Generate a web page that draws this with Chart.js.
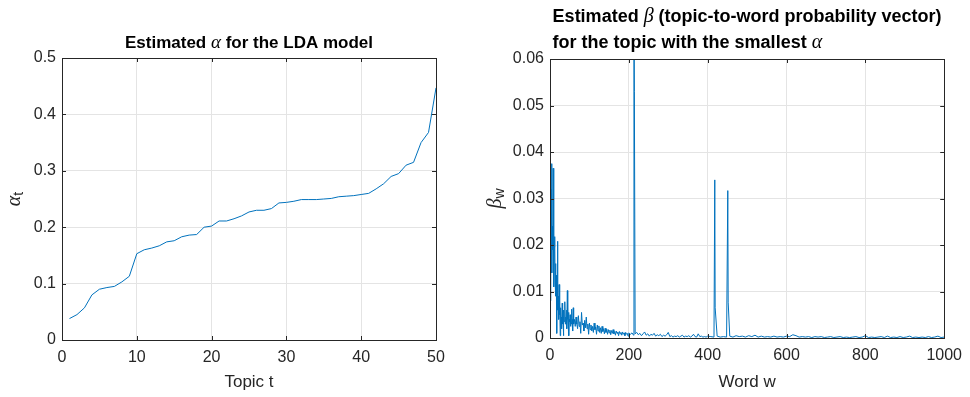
<!DOCTYPE html>
<html>
<head>
<meta charset="utf-8">
<script src="https://cdn.jsdelivr.net/npm/chart.js@4.4.0/dist/chart.umd.min.js"></script>
<style>
html, body { margin: 0; padding: 0; background: #fff; }
#wrap { position: relative; width: 970px; height: 397px; }
canvas { position: absolute; top: 0; }
</style>
</head>
<body>
<div id="wrap">
    <canvas id="alphaChart" width="485" height="397" style="left:0"></canvas>
    <canvas id="betaChart" width="485" height="397" style="left:485px"></canvas>
</div>
<script>
// Left plot: sorted alpha per topic
const topics = Array.from({ length: 50 }, (_, i) => i + 1);
const alphaValues = [
    0.038, 0.045, 0.057, 0.080, 0.090, 0.093, 0.095, 0.103, 0.113, 0.153,
    0.160, 0.163, 0.167, 0.174, 0.176, 0.183, 0.186, 0.187, 0.200, 0.202,
    0.211, 0.211, 0.215, 0.220, 0.227, 0.230, 0.230, 0.233, 0.243, 0.244,
    0.246, 0.249, 0.249, 0.249, 0.250, 0.251, 0.254, 0.255, 0.256, 0.258,
    0.260, 0.268, 0.277, 0.290, 0.295, 0.310, 0.315, 0.350, 0.368, 0.447
];
const alphaXTicks = [0, 10, 20, 30, 40, 50];
const alphaYTicks = [0, 0.1, 0.2, 0.3, 0.4, 0.5];

// Right plot: beta for the topic with the smallest alpha
// words 1..60 (step 1)
const betaHead = [
    0.008, 0.027, 0.032, 0.0375, 0.014, 0.024, 0.019, 0.0365, 0.017, 0.011,
    0.0195, 0.0218, 0.012, 0.016, 0.009, 0.0135, 0.001, 0.011, 0.0208, 0.006,
    0.009, 0.004, 0.0115, 0.005, 0.008, 0.0005, 0.0065, 0.003, 0.0045, 0.002,
    0.0075, 0.003, 0.0045, 0.0005, 0.006, 0.0035, 0.004, 0.0078, 0.003, 0.0045,
    0.0035, 0.006, 0.002, 0.0102, 0.004, 0.003, 0.0055, 0.0005, 0.004, 0.0035,
    0.005, 0.0025, 0.0042, 0.003, 0.0062, 0.0035, 0.004, 0.0015, 0.0065, 0.003
];
// words 62..200 (step 2)
const betaMid = [
    0.004, 0.0025, 0.0045, 0.003, 0.002, 0.0048, 0.0025, 0.0035, 0.001, 0.0055,
    0.0028, 0.0032, 0.0015, 0.0038, 0.0022, 0.0045, 0.002, 0.003, 0.0008, 0.0032,
    0.0018, 0.0028, 0.0015, 0.0025, 0.0012, 0.0032, 0.0018, 0.0024, 0.0008, 0.0028,
    0.0015, 0.0026, 0.0012, 0.0022, 0.001, 0.0025, 0.0014, 0.002, 0.0009, 0.0021,
    0.0012, 0.0019, 0.0008, 0.0018, 0.0011, 0.0017, 0.0007, 0.0016, 0.001, 0.0018,
    0.0009, 0.0014, 0.0006, 0.0015, 0.001, 0.0013, 0.0005, 0.0014, 0.0009, 0.0012,
    0.0006, 0.0013, 0.0008, 0.0011, 0.0005, 0.0012, 0.0008, 0.001, 0.0004, 0.0011
];
// words 204..400 (step 4)
const betaTail = [
    0.0008, 0.0011, 0.0006, 0.0009, 0.0012, 0.0007, 0.001, 0.0005, 0.0009, 0.0013,
    0.0006, 0.0009, 0.0004, 0.0008, 0.0006, 0.001, 0.0004, 0.0007, 0.0005, 0.0008,
    0.0003, 0.0006, 0.0004, 0.0007, 0.0012, 0.0003, 0.0005, 0.0002, 0.0004, 0.0003,
    0.0005, 0.0002, 0.0004, 0.0006, 0.0002, 0.0004, 0.0003, 0.0005, 0.0002, 0.0004,
    0.0008, 0.0003, 0.0002, 0.0009, 0.0003, 0.0004, 0.0002, 0.0003, 0.0002, 0.0004
];
// words 408..1000 (step 8)
const betaFlat = [
    0.0003, 0.0002, 0.0004, 0.0002, 0.0003, 0.0002, 0.0004, 0.0002, 0.0005, 0.0003,
    0.0004, 0.0002, 0.0005, 0.0003, 0.0006, 0.0002, 0.0004, 0.0002, 0.0003, 0.0002,
    0.0004, 0.0002, 0.0003, 0.0002, 0.0004, 0.0003, 0.0007, 0.0005, 0.0002, 0.0003,
    0.0002, 0.0003, 0.0001, 0.0003, 0.0002, 0.0003, 0.0001, 0.0002, 0.0003, 0.0001,
    0.0002, 0.0003, 0.0001, 0.0002, 0.0001, 0.0002, 0.0003, 0.0001, 0.0002, 0.0005,
    0.0001, 0.0002, 0.0001, 0.0002, 0.0003, 0.0001, 0.0004, 0.0001, 0.0002, 0.0001,
    0.0003, 0.0001, 0.0002, 0.0004, 0.0001, 0.0002, 0.0001, 0.0002, 0.0001, 0.0003,
    0.0001, 0.0002, 0.0004, 0.0001, 0.0002
];
const spikeWords = [213, 214, 418, 419, 451, 452];
const spikeValues = [0.075, 0.053, 0.034, 0.0065, 0.0317, 0.0077];
const betaXTicks = [0, 200, 400, 600, 800, 1000];
const betaYTicks = [0, 0.01, 0.02, 0.03, 0.04, 0.05, 0.06];

const LINE = '#0072BD';
const AXIS = '#262626';
const GRID = '#e4e4e4';
const SANS = '"Liberation Sans", Arial, sans-serif';
const SERIF = '"Liberation Serif", "Times New Roman", serif';

function segment(values, start, step) {
    return values.map((v, i) => ({ x: start + i * step, y: v }));
}

const betaPoints = [
    ...segment(betaHead, 1, 1),
    ...segment(betaMid, 62, 2),
    ...segment(betaTail, 204, 4),
    ...segment(betaFlat, 408, 8),
    ...spikeWords.map((w, i) => ({ x: w, y: spikeValues[i] }))
].sort((a, b) => a.x - b.x);

// draw text made of several font parts
function drawRich(ctx, parts, x, y, align) {
    let w = 0;
    parts.forEach(p => { ctx.font = p.font; w += ctx.measureText(p.text).width; });
    let cx = align === 'center' ? x - w / 2 : x;
    parts.forEach(p => {
        ctx.font = p.font;
        ctx.fillText(p.text, cx, y + (p.dy || 0));
        cx += ctx.measureText(p.text).width;
    });
}

function richWidth(ctx, parts) {
    let w = 0;
    parts.forEach(p => { ctx.font = p.font; w += ctx.measureText(p.text).width; });
    return w;
}

// box, inward ticks, titles and labels like a matlab axes
const matlabAxes = {
    id: 'matlabAxes',
    afterDraw(chart, args, opts) {
        const { ctx, chartArea: a, scales } = chart;
        ctx.save();
        ctx.strokeStyle = AXIS;
        ctx.lineWidth = 1;
        const tl = 4;
        ctx.beginPath();
        scales.x.ticks.forEach(t => {
            const px = Math.round(scales.x.getPixelForValue(t.value)) + 0.5;
            ctx.moveTo(px, a.bottom); ctx.lineTo(px, a.bottom - tl);
            ctx.moveTo(px, a.top); ctx.lineTo(px, a.top + tl);
        });
        scales.y.ticks.forEach(t => {
            const py = Math.round(scales.y.getPixelForValue(t.value)) + 0.5;
            ctx.moveTo(a.left, py); ctx.lineTo(a.left + tl, py);
            ctx.moveTo(a.right, py); ctx.lineTo(a.right - tl, py);
        });
        ctx.stroke();
        ctx.strokeRect(Math.round(a.left) + 0.5, Math.round(a.top) + 0.5,
            Math.round(a.right - a.left), Math.round(a.bottom - a.top));

        ctx.fillStyle = '#000';
        ctx.textBaseline = 'middle';
        ctx.textAlign = 'left';
        const cx = (a.left + a.right) / 2;
        const widths = opts.title.map(line => richWidth(ctx, line));
        const maxW = Math.max(...widths);
        opts.title.forEach((line, i) => {
            drawRich(ctx, line, cx - maxW / 2, opts.titleY[i], 'left');
        });

        ctx.fillStyle = AXIS;
        drawRich(ctx, [{ text: opts.xLabel, font: '17px ' + SANS }], cx, opts.xLabelY, 'center');

        ctx.translate(opts.yLabelX, (a.top + a.bottom) / 2);
        ctx.rotate(-Math.PI / 2);
        drawRich(ctx, opts.yLabel, 0, 0, 'center');
        ctx.restore();
    }
};

function tickCallback(value) {
    return String(+value.toFixed(2));
}

function axesOptions(xTicks, yTicks, xRange, yRange, yWidth, xHeight) {
    return {
        x: {
            type: 'linear', min: xRange[0], max: xRange[1],
            afterBuildTicks: s => { s.ticks = xTicks.map(v => ({ value: v })); },
            afterFit: s => { s.height = xHeight; },
            grid: { color: GRID, drawTicks: false },
            border: { display: false },
            ticks: { padding: 8, color: AXIS, font: { family: SANS, size: 16 }, callback: tickCallback, maxRotation: 0 }
        },
        y: {
            min: yRange[0], max: yRange[1],
            afterBuildTicks: s => { s.ticks = yTicks.map(v => ({ value: v })); },
            afterFit: s => { s.width = yWidth; },
            grid: { color: GRID, drawTicks: false },
            border: { display: false },
            ticks: { padding: 6, color: AXIS, font: { family: SANS, size: 16 }, callback: tickCallback }
        }
    };
}

const leftBold = 'bold 17px ' + SANS;
const leftGreek = 'italic 19px ' + SERIF;
const rightBold = 'bold 18px ' + SANS;
const rightGreek = 'italic 20px ' + SERIF;

new Chart(document.getElementById('alphaChart'), {
    type: 'line',
    data: {
        datasets: [{
            data: topics.map((t, i) => ({ x: t, y: alphaValues[i] })),
            borderColor: LINE, borderWidth: 1, pointRadius: 0, tension: 0, fill: false
        }]
    },
    options: {
        responsive: false, animation: false,
        layout: { padding: { left: 0, top: 58, right: 49, bottom: 0 } },
        scales: axesOptions(alphaXTicks, alphaYTicks, [0, 50], [0, 0.5], 62, 57),
        plugins: {
            legend: { display: false },
            tooltip: { enabled: false },
            matlabAxes: {
                title: [[
                    { text: 'Estimated ', font: leftBold },
                    { text: 'α', font: leftGreek },
                    { text: ' for the LDA model', font: leftBold }
                ]],
                titleY: [43],
                xLabel: 'Topic t', xLabelY: 382,
                yLabelX: 15,
                yLabel: [
                    { text: 'α', font: 'italic 20px ' + SERIF },
                    { text: 't', font: '14px ' + SANS, dy: 4 }
                ]
            }
        }
    },
    plugins: [matlabAxes]
});

new Chart(document.getElementById('betaChart'), {
    type: 'line',
    data: {
        datasets: [{
            data: betaPoints,
            borderColor: LINE, borderWidth: 1, pointRadius: 0, tension: 0, fill: false
        }]
    },
    options: {
        responsive: false, animation: false,
        layout: { padding: { left: 0, top: 59, right: 23, bottom: 0 } },
        scales: axesOptions(betaXTicks, betaYTicks, [0, 1000], [0, 0.06], 65, 59),
        plugins: {
            legend: { display: false },
            tooltip: { enabled: false },
            matlabAxes: {
                title: [
                    [
                        { text: 'Estimated ', font: rightBold },
                        { text: 'β', font: rightGreek },
                        { text: ' (topic-to-word probability vector)', font: rightBold }
                    ],
                    [
                        { text: 'for the topic with the smallest ', font: rightBold },
                        { text: 'α', font: rightGreek }
                    ]
                ],
                titleY: [17, 43],
                xLabel: 'Word w', xLabelY: 382,
                yLabelX: 11,
                yLabel: [
                    { text: 'β', font: 'italic 20px ' + SERIF },
                    { text: 'w', font: '14px ' + SANS, dy: 4 }
                ]
            }
        }
    },
    plugins: [matlabAxes]
});
</script>
</body>
</html>
